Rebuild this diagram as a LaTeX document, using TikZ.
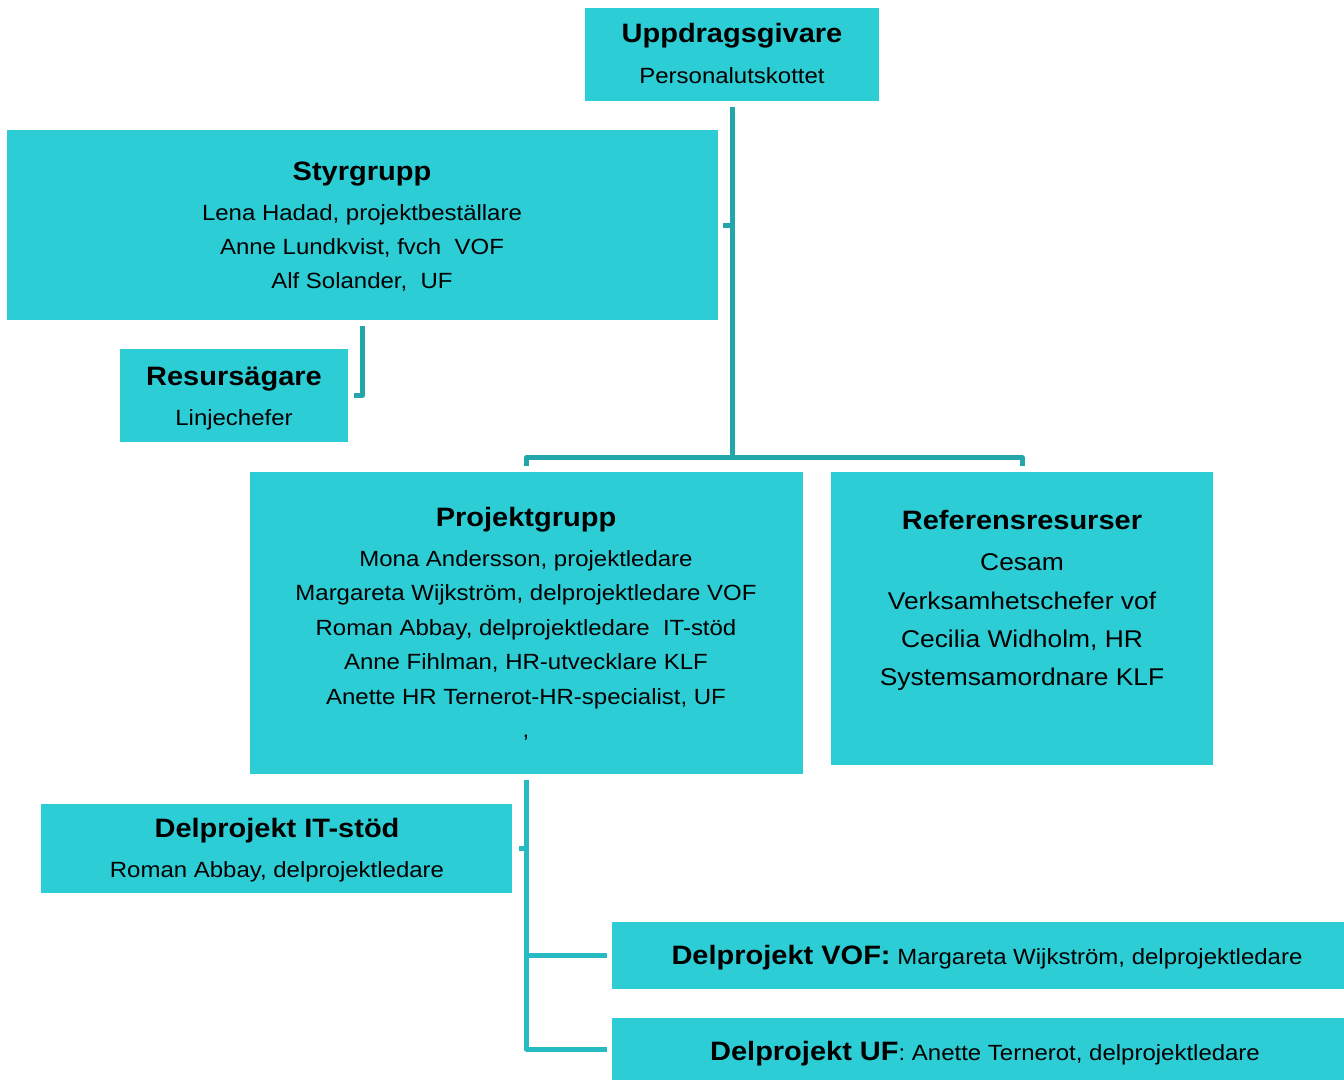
\documentclass[tikz,border=0pt]{standalone}
\usepackage{fontspec}
\setmainfont{Liberation Sans}[FakeStretch=1.09]
\definecolor{boxc}{HTML}{2DCDD6}
\definecolor{connA}{HTML}{22A6AA}
\definecolor{connB}{HTML}{26BBC3}
\tikzset{
  box/.style={fill=boxc, draw=none, inner sep=0pt, rectangle},
  ttl/.style={anchor=base, inner sep=0pt, font=\fontsize{26.6}{29}\selectfont\bfseries},
  txt/.style={anchor=base, inner sep=0pt, font=\fontsize{22}{25}\selectfont},
  txtL/.style={anchor=base, inner sep=0pt, font=\fontsize{24.2}{27}\selectfont},
  conn/.style={draw=connA, line width=5pt, line join=round},
  connb/.style={draw=connB, line width=5pt, line join=round}
}
\begin{document}
\begin{tikzpicture}[x=1pt,y=-1pt]
\useasboundingbox (0,0) rectangle (1344,1081);
% boxes
\node[box, minimum width=294pt, minimum height=93pt] (upp) at (732,54.5) {};
\node[box, minimum width=711pt, minimum height=190pt] (styr) at (362.5,225) {};
\node[box, minimum width=228pt, minimum height=93pt] (res) at (234,395.5) {};
\node[box, minimum width=553pt, minimum height=302pt] (proj) at (526.5,623) {};
\node[box, minimum width=382pt, minimum height=293pt] (ref) at (1022,618.5) {};
\node[box, minimum width=471pt, minimum height=89pt] (it) at (276.5,848.5) {};
\node[box, minimum width=732pt, minimum height=67pt] (vof) at (978,955.5) {};
\node[box, minimum width=732pt, minimum height=62pt] (uf) at (978,1049) {};
% texts
\node[ttl] (uppT) at (732,43) {Uppdragsgivare};
\node[txt] (uppS) at (732,83) {Personalutskottet};
\node[ttl] (styrT) at (362,180) {Styrgrupp};
\node[txt] (styr1) at (362,220) {Lena Hadad, projektbeställare};
\node[txt] (styr2) at (362,254) {Anne Lundkvist, fvch\ \ VOF};
\node[txt] (styr3) at (362,288) {Alf Solander,\ \ UF};
\node[ttl] (resT) at (234,385) {Resursägare};
\node[txt] (resS) at (234,425) {Linjechefer};
\node[ttl] (projT) at (526,526) {Projektgrupp};
\node[txt] (proj1) at (526,566) {Mona Andersson, projektledare};
\node[txt] (proj2) at (526,600) {Margareta Wijkström, delprojektledare VOF};
\node[txt] (proj3) at (526,635) {Roman Abbay, delprojektledare\ \ IT-stöd};
\node[txt] (proj4) at (526,669) {Anne Fihlman, HR-utvecklare KLF};
\node[txt] (proj5) at (526,704) {Anette HR Ternerot-HR-specialist, UF};
\node[txt] (proj6) at (526,737) {,};
\node[ttl] (refT) at (1022,529) {Referensresurser};
\node[txtL] (ref1) at (1022,570) {Cesam};
\node[txtL] (ref2) at (1022,609) {Verksamhetschefer vof};
\node[txtL] (ref3) at (1022,647) {Cecilia Widholm, HR};
\node[txtL] (ref4) at (1022,685) {Systemsamordnare KLF};
\node[ttl] (itT) at (277,837) {Delprojekt IT-stöd};
\node[txt] (itS) at (277,877) {Roman Abbay, delprojektledare};
\node[txt] (vofT) at (987,964) {{\fontsize{26.6}{29}\selectfont\bfseries Delprojekt VOF:} Margareta Wijkström, delprojektledare};
\node[txt] (ufT) at (985,1060) {{\fontsize{26.6}{29}\selectfont\bfseries Delprojekt UF}: Anette Ternerot, delprojektledare};
% connectors
\coordinate (jn) at (732,458);
\draw[conn] ([yshift=-6pt]upp.south) -- (upp.south |- jn);
\draw[conn] ([xshift=5pt]styr.east) -- (styr.east -| upp.south);
\draw[conn] ([yshift=6pt]proj.north) -- ([yshift=14pt]proj.north) -| ([yshift=6pt]ref.north);
\draw[conn] ([yshift=-6pt]styr.south) |- ([xshift=6pt]res.east);
\draw[connb] ([yshift=-6pt]proj.south) |- ([xshift=-5pt]uf.west);
\draw[connb] (proj.south |- vof.west) -- ([xshift=-5pt]vof.west);
\draw[connb] ([xshift=7pt]it.east) -- (it.east -| proj.south);
\end{tikzpicture}
\end{document}
